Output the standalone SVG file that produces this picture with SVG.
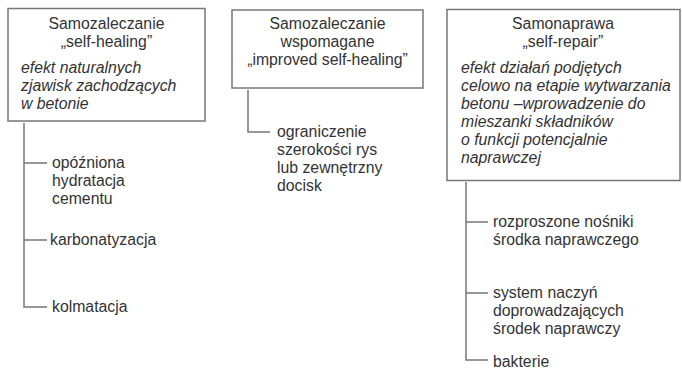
<svg xmlns="http://www.w3.org/2000/svg" width="682" height="369" viewBox="0 0 682 369">
<style>
.box{fill:#fff;stroke:#777;stroke-width:1.5}
.ln{fill:none;stroke:#777;stroke-width:1.5}
text{font-family:"Liberation Sans",Arial,sans-serif;font-size:15.8px;fill:#333}
.c{text-anchor:middle}
.i{font-style:italic}
</style>
<rect width="682" height="369" fill="#fff"/>
<g id="connectors">
<path class="ln" d="M24,123 V307 H47 M24,163 H47 M24,240 H47"/>
<path class="ln" d="M248,90 V132 H270"/>
<path class="ln" d="M466,182 V360 H488 M466,222 H488 M466,293 H488"/>
</g>
<g id="node-self-healing">
<rect class="box" x="8" y="8.5" width="197" height="112.5"/>
<text class="c" x="106.5" y="29">Samozaleczanie</text>
<text class="c" x="106.5" y="47">„self-healing”</text>
<text class="i" x="21" y="73">efekt naturalnych</text>
<text class="i" x="21" y="91">zjawisk zachodzących</text>
<text class="i" x="21" y="109">w betonie</text>
</g>
<g id="node-improved">
<rect class="box" x="232" y="10" width="191" height="78"/>
<text class="c" x="327.5" y="29">Samozaleczanie</text>
<text class="c" x="327.5" y="47">wspomagane</text>
<text class="c" x="327.5" y="65">„improved self-healing”</text>
</g>
<g id="node-self-repair">
<rect class="box" x="447" y="9.5" width="233" height="171"/>
<text class="c" x="563" y="29">Samonaprawa</text>
<text class="c" x="563" y="47">„self-repair”</text>
<text class="i" x="461" y="73">efekt działań podjętych</text>
<text class="i" x="461" y="91">celowo na etapie wytwarzania</text>
<text class="i" x="461" y="109">betonu –wprowadzenie do</text>
<text class="i" x="461" y="127">mieszanki składników</text>
<text class="i" x="461" y="145">o funkcji potencjalnie</text>
<text class="i" x="461" y="163">naprawczej</text>
</g>
<g id="item-opozniona">
<text x="52" y="168">opóźniona</text>
<text x="52" y="186">hydratacja</text>
<text x="52" y="204">cementu</text>
</g>
<g id="item-karbonatyzacja"><text x="50" y="245">karbonatyzacja</text></g>
<g id="item-kolmatacja"><text x="52" y="312">kolmatacja</text></g>
<g id="item-ograniczenie">
<text x="277" y="137">ograniczenie</text>
<text x="277" y="155">szerokości rys</text>
<text x="277" y="173">lub zewnętrzny</text>
<text x="277" y="191">docisk</text>
</g>
<g id="item-nosniki">
<text x="493" y="227">rozproszone nośniki</text>
<text x="493" y="245">środka naprawczego</text>
</g>
<g id="item-system">
<text x="493" y="298">system naczyń</text>
<text x="493" y="316">doprowadzających</text>
<text x="493" y="334">środek naprawczy</text>
</g>
<g id="item-bakterie"><text x="493" y="367">bakterie</text></g>
</svg>
